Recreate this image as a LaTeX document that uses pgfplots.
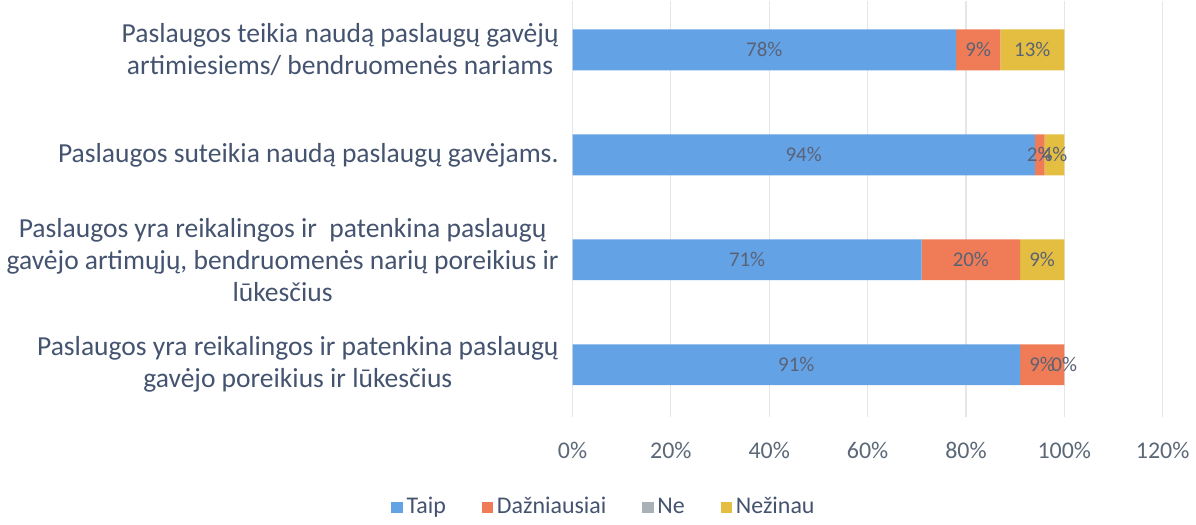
\documentclass[border=0pt]{standalone}
\usepackage{fontspec}
\setmainfont{Carlito}
\usepackage{pgfplots}
\usepackage{pgfplotstable}
\pgfplotsset{compat=1.18}
\definecolor{taip}{HTML}{64A2E6}
\definecolor{dazn}{HTML}{EF7C56}
\definecolor{ne}{HTML}{A8B0B8}
\definecolor{nez}{HTML}{E4BE40}
\definecolor{txt}{HTML}{44536F}
\definecolor{tick}{HTML}{5B6878}
\definecolor{lbl}{HTML}{5A6276}
\definecolor{gridc}{HTML}{E4E6EA}
\pgfplotstableread{
y taip dazn ne nez
1 91 9 0 0
2 71 20 0 9
3 94 2 0 4
4 78 9 0 13
}\data
\pgfplotstableread{
x y v
39 4 78
82.5 4 9
93.5 4 13
47 3 94
95 3 2
98 3 4
35.5 2 71
81 2 20
95.5 2 9
45.5 1 91
95.5 1 9
100 1 0
}\labels
\pgfplotsset{common/.style={scale only axis, width=296pt, height=209pt,
  xmin=0, xmax=120, ymin=0.5, ymax=4.47,
  /pgf/number format/assume math mode=true}}
\begin{document}
\begin{tikzpicture}
\begin{axis}[
  common,
  xbar stacked, bar width=20.5pt,
  xtick={0,20,...,120},
  xticklabel={\pgfmathprintnumber{\tick}\%},
  xticklabel style={font=\fontsize{12}{14}\selectfont, text=tick, yshift=-9pt},
  ytick={1,2,3,4},
  yticklabels={
    {Paslaugos yra reikalingos ir patenkina paslaugų\\gavėjo poreikius ir lūkesčius},
    {Paslaugos yra reikalingos ir\ \ patenkina paslaugų\\gavėjo artimųjų, bendruomenės narių poreikius ir\\lūkesčius},
    {Paslaugos suteikia naudą paslaugų gavėjams.},
    {Paslaugos teikia naudą paslaugų gavėjų\\artimiesiems/ bendruomenės nariams}},
  yticklabel style={align=center, font=\fontsize{13.8}{16}\selectfont, text=txt, xshift=-3.5pt},
  axis line style={draw=none},
  major tick length=0pt,
  xmajorgrids, grid style={draw=gridc, line width=0.6pt},
  legend style={draw=none, at={(0.055,0)}, anchor=north, yshift=-36pt,
    legend columns=4, font=\fontsize{12}{14}\selectfont, text=txt,
    /tikz/every even column/.append style={column sep=16pt}},
  legend image code/.code={\fill[#1] (0pt,-2.8pt) rectangle (5.6pt,2.8pt);},
]
\addplot[fill=taip, draw=none] table[x=taip, y=y] {\data};
\addlegendentry{Taip}
\addplot[fill=dazn, draw=none] table[x=dazn, y=y] {\data};
\addlegendentry{Dažniausiai}
\addplot[fill=ne, draw=none] table[x=ne, y=y] {\data};
\addlegendentry{Ne}
\addplot[fill=nez, draw=none] table[x=nez, y=y] {\data};
\addlegendentry{Nežinau}
\end{axis}
\begin{axis}[common, hide axis]
\addplot[only marks, mark=none,
  point meta=explicit,
  nodes near coords={\pgfmathprintnumber{\pgfplotspointmeta}\%},
  every node near coord/.append style={anchor=center, font=\fontsize{10.5}{12}\selectfont, text=lbl}]
  table[x=x, y=y, meta=v] {\labels};
\end{axis}
\end{tikzpicture}
\end{document}
